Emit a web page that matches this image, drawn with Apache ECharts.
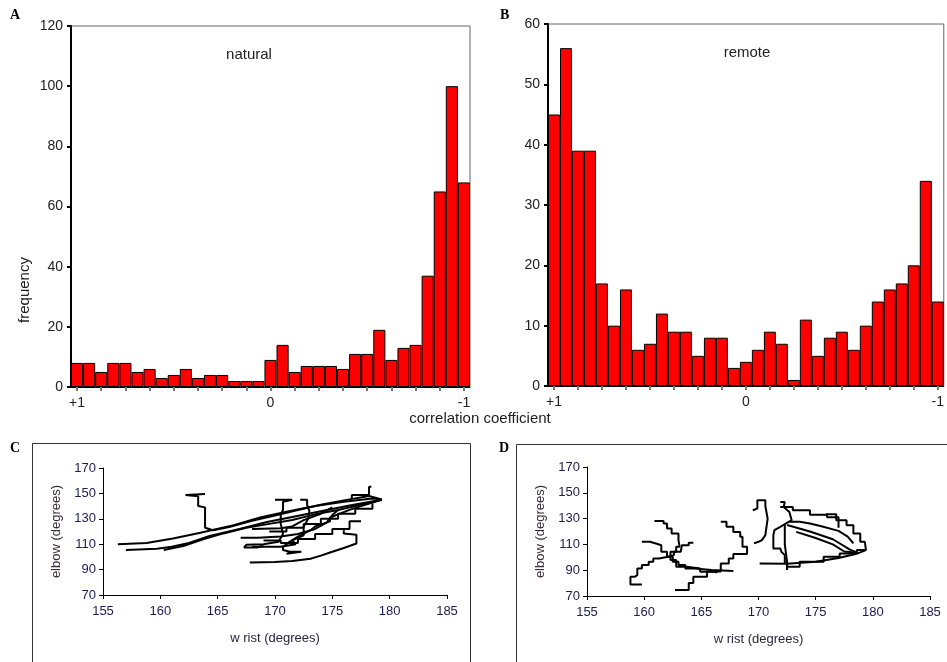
<!DOCTYPE html>
<html>
<head>
<meta charset="utf-8">
<script src="https://cdn.jsdelivr.net/npm/echarts@6/dist/echarts.min.js"></script>
<style>
  html, body { margin: 0; padding: 0; background: #fff; }
  #chart { width: 947px; height: 662px; }
</style>
</head>
<body>
<div id="chart"></div>
<script>
// histogram data: 33 bins of correlation coefficient, from +1 down to -1
const naturalCounts = [8, 8, 5, 8, 8, 5, 6, 3, 4, 6, 3, 4, 4, 2, 2, 2, 9, 14, 5, 7, 7, 7, 6, 11, 11, 19, 9, 13, 14, 37, 65, 100, 68];
const remoteCounts = [45, 56, 39, 39, 17, 10, 16, 6, 7, 12, 9, 9, 5, 8, 8, 3, 4, 6, 9, 7, 1, 11, 5, 8, 9, 6, 10, 14, 16, 17, 20, 34, 14];
const binLabels = { 0: '+1', 16: '0', 32: '-1' };
const bins = naturalCounts.map((v, i) => i + 1);

// wrist/elbow trajectories (degrees), natural condition
const natHook = [[163.9,149.5],[162.2,148.8],[162.2,148],[163.3,147.8],[163.3,140],[163.9,139],[163.9,123],[164.6,121],[166,123.5],[168,128.5],[170,132.5],[172,137],[174,141],[176,144.5],[178.2,148],[179.3,145.3]];
const natUpper = [[156.3,110],[158.8,111],[161.1,114.5],[163.5,119],[166.4,125],[168.7,131],[171,135.5],[173.5,140],[176,143.5],[178.5,146],[179.3,145.3]];
const natLower = [[157,105.5],[159.7,106.5],[161,108],[162.5,111],[164.3,116.5],[166.9,122],[169.3,127.5],[171.5,131.5],[174,136],[176.5,140.5],[179.3,145]];
const natBand = [[160.3,105.5],[162,108.5],[163.8,114],[165.5,118.5],[167.5,123],[169.5,126],[171.5,129],[173.5,133.5],[175.5,137],[177.5,141],[179.3,145]];
const natReturn = [[179.3,145],[177.5,140],[176.5,137],[174.8,131],[174.8,128],[173.5,124],[173.1,121],[172,116],[171.3,112],[170.7,108],[170.7,105.5],[171.3,104],[172.3,104],[172.3,102.5],[171,102.5]];
const natVert1 = [[170,145],[171.5,145],[171.5,143.5],[170.7,143.5],[170.7,137],[170.5,133],[170.5,126],[170.7,118],[170.3,112],[169,110],[167.5,109.5],[167.3,107.5],[168.5,107.5],[169,109]];
const natVert2 = [[172.2,145],[172.8,145],[172.8,141],[173,136],[172.9,130],[172.5,124],[172.5,117],[171.5,113],[171.8,110],[170.5,108],[168,108]];
const natMid = [[167,115],[168.5,115],[170.5,116],[172,118],[173.5,122],[174.5,127],[175,133],[175.5,137]];
const natMid2 = [[168,122],[170.5,122.5],[171.5,124],[172.5,129],[174,134],[175,139]];
const natStair1 = [[169.5,120],[171,120],[171,123],[172.5,123],[172.5,126],[174,126],[174,130],[175.5,130],[175.5,134],[177,134],[177,138],[178.5,138],[178.5,142]];
const natStair2 = [[169,113],[170.5,113],[170.5,111],[172,111],[172,114],[173.5,114],[173.5,118],[175,118],[175,122],[176.5,122],[176.5,128],[177.5,128]];
const natArc = [[167.8,95.5],[170,96],[171.5,96.8],[173.1,98.5],[174,101],[174.8,103.5],[176,107],[177.1,110.5],[177.1,117.5],[176,118.5],[176,121]];
const natSpike = [[176.7,146],[176.7,148.8],[178.2,148.8],[178.2,155],[178.4,155.5]];

// wrist/elbow trajectories (degrees), remote condition
const remA = [[159.8,79],[158.8,80.3],[158.8,85],[159.2,86.2],[159.4,91.4],[159.8,94],[160.4,96.5],[160.8,99.1],[161.3,100.4],[162.1,101.7],[162.6,104.3],[163.2,105.6],[163.3,109.4],[163.9,111.2],[164.3,111.2]];
const remB = [[159.8,112],[160.5,112],[160.5,110.5],[161.1,109.4],[161.5,104.3],[162,100.4],[162.5,96.5],[163,94],[163.6,91.4],[164.4,90.1],[165.9,89.3],[167.8,89.3]];
const remC = [[160.9,128.2],[161.7,126.2],[162,122.4],[162.4,118.5],[163,113.3],[163.1,108.1],[162.8,104.3],[162.3,101.5],[162.3,98],[162.8,92.7],[163.7,91.4],[164.9,88.8],[166.3,87.6]];
const remD = [[166.7,127.5],[167.2,123.6],[167.8,119.7],[168.4,115.9],[168.6,110],[168.6,108.1],[169,106.9],[169,102.5],[167.8,102.5],[167.8,99],[167.4,95.2],[166.7,91.4],[166.7,89],[165.5,85],[164.3,80],[163.9,74.6],[162.7,74.6]];
const remE = [[175.9,133.4],[176.8,128.8],[177.7,124.9],[178.3,118.5],[178.9,112],[179.3,110.8],[179.4,105.6],[178.6,103],[177.1,100.4],[175.7,96.5],[173.6,92.7],[172.5,90.1]];
const remF = [[170.1,95.2],[172.5,95],[175,96.5],[177,99.5],[178.5,102.5],[179.4,105.6]];
const remG = [[169.5,136.5],[169.9,137.8],[169.9,144.2],[170.6,144.2],[170.6,139.8],[170.8,130],[170.6,117.2],[170.3,113.3],[170,112],[169.6,110.8]];
const remH = [[171.9,142.9],[172.3,142.9],[172.2,139],[172.7,135.2],[172.9,128.8],[171.9,123.6],[171.4,121.1],[171.3,117.2],[171.3,106.9],[171.9,106.9],[172,104.3],[172.3,101.7],[172.3,95]];
const remI = [[172.5,125],[174.5,120],[176.5,114],[178,106],[178.8,103]];
const remJ = [[172.7,127.5],[173.6,127.5],[174.5,126.2],[175.5,124],[177,120.5],[177.8,116],[178.3,110.8]];
const remK = [[173.3,119.7],[175,115],[176.5,110],[177.5,104.5],[178.6,103.5]];
const remL = [[172.3,125],[172.3,110],[172.5,96.5],[172.5,91]];
const remM = [[171.9,139],[172.5,139],[173,136.5],[174.5,136.5],[174.5,133],[176,131],[177,126.5],[177,123]];

const naturalTraces = [natHook, natUpper, natLower, natBand, natReturn, natVert1, natVert2, natMid, natMid2, natStair1, natStair2, natArc, natSpike];
const remoteTraces = [remA, remB, remC, remD, remE, remF, remG, remH, remI, remJ, remK, remL, remM];
// remote traces drawn as staircases (sampled joint angles)
const remoteStepped = [remA, remB, remC, remD, remE, remM];

const chart = echarts.init(document.getElementById('chart'));
const font = 'Liberation Sans, Arial, sans-serif';
const labelBlue = '#1c1c54';

function histX(gi) {
  return {
    type: 'category', gridIndex: gi, data: bins,
    axisLine: { lineStyle: { color: '#000', width: 1 } },
    axisTick: { show: true, interval: 1, alignWithLabel: true, length: 4, lineStyle: { color: '#777', width: 2 } },
    axisLabel: { interval: 0, margin: 9, color: '#222', fontSize: 14, fontFamily: font,
      formatter: (v, i) => binLabels[i] || '' }
  };
}
function histY(gi, max, step) {
  return {
    type: 'value', gridIndex: gi, min: 0, max: max, interval: step,
    splitLine: { show: false },
    axisLine: { show: true, lineStyle: { color: '#000', width: 2 } },
    axisTick: { show: true, length: 4, lineStyle: { color: '#000', width: 2 } },
    axisLabel: { color: '#222', fontSize: 14, fontFamily: font, margin: 8 }
  };
}
function trajX(gi) {
  return {
    type: 'value', gridIndex: gi, min: 155, max: 185, interval: 5,
    splitLine: { show: false },
    axisLine: { show: true, onZero: false, lineStyle: { color: '#000', width: 1 } },
    axisTick: { show: true, length: 4, lineStyle: { color: '#000' } },
    axisLabel: { color: labelBlue, fontSize: 13, fontFamily: font, margin: 10 },
    name: 'w rist (degrees)', nameLocation: 'middle', nameGap: 37,
    nameTextStyle: { color: '#2a2540', fontSize: 13, fontFamily: font }
  };
}
function trajY(gi) {
  return {
    type: 'value', gridIndex: gi, min: 70, max: 170, interval: 20,
    splitLine: { show: false },
    axisLine: { show: true, onZero: false, lineStyle: { color: '#000', width: 1 } },
    axisTick: { show: true, length: 4, lineStyle: { color: '#000' } },
    axisLabel: { color: labelBlue, fontSize: 13, fontFamily: font, margin: 7 },
    name: 'elbow (degrees)', nameLocation: 'middle', nameGap: 40,
    nameTextStyle: { color: '#3a2a3a', fontSize: 13, fontFamily: font }
  };
}

const series = [
  { type: 'bar', xAxisIndex: 0, yAxisIndex: 0, data: naturalCounts, barCategoryGap: 0,
    itemStyle: { color: '#ff0000', borderColor: '#000', borderWidth: 1 }, silent: true },
  { type: 'bar', xAxisIndex: 1, yAxisIndex: 1, data: remoteCounts, barCategoryGap: 0,
    itemStyle: { color: '#ff0000', borderColor: '#000', borderWidth: 1 }, silent: true }
];
naturalTraces.forEach(t => series.push({
  type: 'line', xAxisIndex: 2, yAxisIndex: 2, data: t, symbol: 'none',
  lineStyle: { color: '#000', width: 2 }, silent: true
}));
remoteTraces.forEach(t => series.push({
  type: 'line', xAxisIndex: 3, yAxisIndex: 3, data: t, symbol: 'none',
  step: remoteStepped.includes(t) ? 'end' : false,
  lineStyle: { color: '#000', width: 2 }, silent: true
}));

const option = {
  animation: false,
  backgroundColor: '#fff',
  grid: [
    { left: 71, top: 26, width: 399, height: 361, show: true, borderColor: '#666', borderWidth: 1 },
    { left: 548, top: 24, width: 396, height: 362, show: true, borderColor: '#666', borderWidth: 1 },
    { left: 103, top: 468, width: 344, height: 127 },
    { left: 587, top: 467, width: 343, height: 129 }
  ],
  xAxis: [histX(0), histX(1), trajX(2), trajX(3)],
  yAxis: [histY(0, 120, 20), histY(1, 60, 10), trajY(2), trajY(3)],
  series: series,
  graphic: [
    { type: 'text', left: 10, top: 8, style: { text: 'A', font: 'bold 14px Liberation Serif, serif', fill: '#000' } },
    { type: 'text', left: 500, top: 8, style: { text: 'B', font: 'bold 14px Liberation Serif, serif', fill: '#000' } },
    { type: 'text', left: 10, top: 441, style: { text: 'C', font: 'bold 14px Liberation Serif, serif', fill: '#000' } },
    { type: 'text', left: 499, top: 441, style: { text: 'D', font: 'bold 14px Liberation Serif, serif', fill: '#000' } },
    { type: 'text', x: 249, y: 55, style: { text: 'natural', font: '15px ' + font, fill: '#222', textAlign: 'center', textVerticalAlign: 'middle' } },
    { type: 'text', x: 747, y: 53, style: { text: 'remote', font: '15px ' + font, fill: '#222', textAlign: 'center', textVerticalAlign: 'middle' } },
    { type: 'text', x: 25, y: 290, rotation: Math.PI / 2, style: { text: 'frequency', font: '15px ' + font, fill: '#222', textAlign: 'center', textVerticalAlign: 'middle' } },
    { type: 'text', x: 480, y: 419, style: { text: 'correlation coefficient', font: '15px ' + font, fill: '#222', textAlign: 'center', textVerticalAlign: 'middle' } },
    { type: 'rect', shape: { x: 32.5, y: 443.5, width: 438, height: 240 }, style: { fill: 'none', stroke: '#333', lineWidth: 1 } },
    { type: 'rect', shape: { x: 516.5, y: 444.5, width: 450, height: 240 }, style: { fill: 'none', stroke: '#333', lineWidth: 1 } }
  ]
};

chart.setOption(option);
</script>
</body>
</html>
